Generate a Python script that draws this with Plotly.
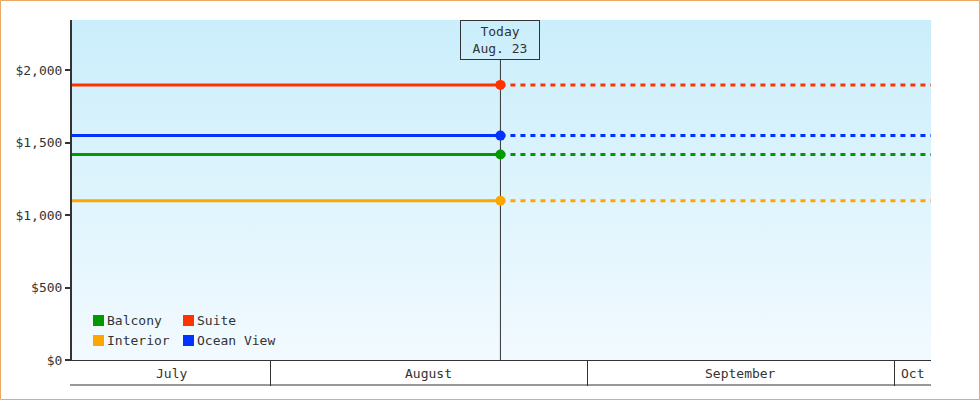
import base64
import pandas as pd
import plotly.graph_objects as go

# cabin prices (flat until today, projected after)
cabins = ['Balcony', 'Suite', 'Interior', 'Ocean View']
prices = [1419, 1899, 1099, 1549]
colors = ['#009900', '#ff3300', '#ffa500', '#0033ff']

start_date = '2024-07-12 12:00'
today_date = '2024-08-23 12:00'
end_date = '2024-10-05 00:00'
today_label = 'Today<br>Aug. 23'

months = ['July', 'August', 'September', 'Oct']
month_starts = ['2024-07-01', '2024-08-01', '2024-09-01', '2024-10-01']
x_range = ['2024-07-12 15:30', '2024-10-04 13:30']
y_ticks = [0, 500, 1000, 1500, 2000]
y_max = 2347

FONT = 'DejaVu Sans Mono'
INK = '#333333'
W, H = 980, 400
L, R, T, B = 72, 49, 20, 40
PW, PH = W - L - R, H - T - B


def px(x):
    return (x - L) / PW


def py(y):
    return (H - B - y) / PH


fig = go.Figure()

for name, price, color in zip(cabins, prices, colors):
    fig.add_trace(go.Scatter(x=[today_date, end_date], y=[price, price], mode='lines',
                             line=dict(color=color, width=3, dash='5px,5px'),
                             showlegend=False, hoverinfo='skip'))
for name, price, color in zip(cabins, prices, colors):
    fig.add_trace(go.Scatter(x=[start_date, today_date], y=[price, price], mode='lines+markers',
                             name=name, line=dict(color=color, width=3),
                             marker=dict(size=10, color=color), cliponaxis=False,
                             showlegend=False))

# gradient background for the plot area
svg = ('<svg xmlns="http://www.w3.org/2000/svg" width="100" height="100" viewBox="0 0 100 100" '
       'preserveAspectRatio="none"><defs><linearGradient id="g" x1="0" y1="0" x2="0" y2="1">'
       '<stop offset="0" stop-color="#caeefb"/><stop offset="1" stop-color="#f2faff"/>'
       '</linearGradient></defs><rect width="100" height="100" fill="url(#g)"/></svg>')
bg = 'data:image/svg+xml;base64,' + base64.b64encode(svg.encode()).decode()
fig.add_layout_image(source=bg, xref='paper', yref='paper', x=0, y=1, sizex=1, sizey=1,
                     xanchor='left', yanchor='top', sizing='stretch', layer='below')

# today marker line + box
fig.add_shape(type='line', xref='x', yref='paper', x0=today_date, x1=today_date,
              y0=0, y1=py(60), line=dict(color=INK, width=1), layer='below')
fig.add_annotation(x=today_date, xref='x', y=1, yref='paper', xanchor='center', yanchor='top',
                   text=today_label, showarrow=False, width=78, height=38, borderpad=0,
                   bordercolor=INK, borderwidth=1, font=dict(family=FONT, size=13, color=INK))

# month band under the axis
r0, r1 = pd.Timestamp(x_range[0]), pd.Timestamp(x_range[1])
for m, s in zip(months, month_starts):
    s = pd.Timestamp(s)
    e = s + pd.offsets.MonthBegin(1)
    a, b = max(s, r0), min(e, r1)
    mid = a + (b - a) / 2
    fig.add_annotation(x=mid, xref='x', y=py(373), yref='paper', text=m, showarrow=False,
                       xanchor='center', yanchor='middle', borderpad=0,
                       font=dict(family=FONT, size=13, color=INK))
fig.add_shape(type='line', xref='paper', yref='paper', x0=px(70), x1=1, y0=py(385), y1=py(385),
              line=dict(color=INK, width=1))

# legend, two columns
for i, (name, color) in enumerate(zip(cabins, colors)):
    col, row = i % 2, i // 2
    x0 = 93 + col * 90
    y0 = 315 + row * 20
    fig.add_shape(type='rect', xref='paper', yref='paper', x0=px(x0), x1=px(x0 + 11),
                  y0=py(y0 + 11), y1=py(y0), fillcolor=color, line=dict(width=0))
    fig.add_annotation(x=px(x0 + 13), y=py(y0 + 5.5), xref='paper', yref='paper', text=name,
                       showarrow=False, xanchor='left', yanchor='middle', borderpad=0,
                       font=dict(family=FONT, size=13, color=INK))

# outer frame
fig.add_shape(type='rect', xref='paper', yref='paper', x0=px(0.5), x1=px(W - 0.5),
              y0=py(H - 0.5), y1=py(0.5), line=dict(color='#e9a964', width=1))

fig.update_xaxes(type='date', range=x_range, tickvals=month_starts, ticks='outside', ticklen=25,
                 tickwidth=1, tickcolor=INK, showticklabels=False, showgrid=False, zeroline=False,
                 showline=True, linecolor=INK, linewidth=1)
fig.update_yaxes(range=[0, y_max], tickvals=y_ticks, ticktext=[f'${v:,}' for v in y_ticks],
                 ticks='outside', ticklen=5, tickwidth=2, tickcolor=INK, showgrid=False,
                 zeroline=False, showline=True, linecolor=INK, linewidth=2, layer='below traces',
                 tickfont=dict(family=FONT, size=13, color=INK))
fig.update_layout(width=W, height=H, margin=dict(l=L, r=R, t=T, b=B, autoexpand=False),
                  paper_bgcolor='white', plot_bgcolor='white', showlegend=False,
                  font=dict(family=FONT, size=13, color=INK))
fig.write_html('out.html', config={'displayModeBar': False},
               post_script="document.body.style.margin='0';")
